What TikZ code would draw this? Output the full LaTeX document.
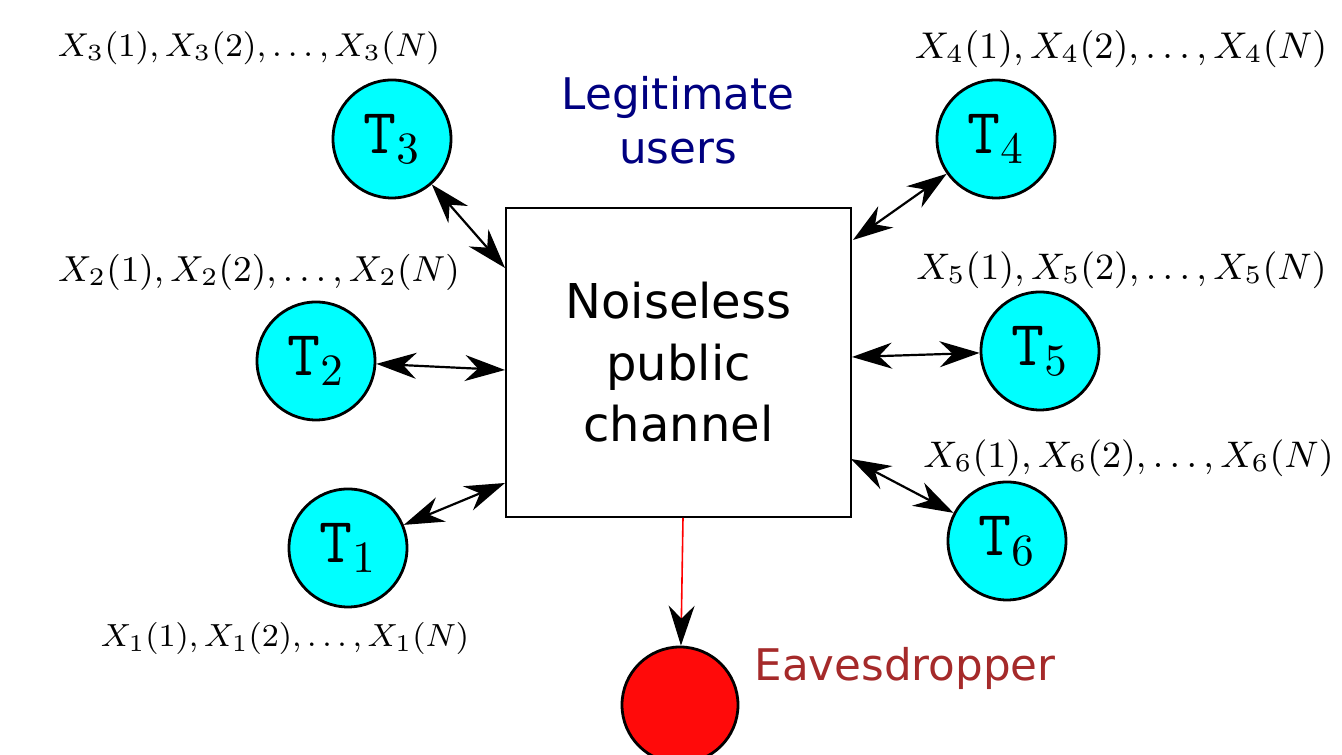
\RequirePackage{fix-cm}
\documentclass[tikz,border=0pt]{standalone}
\usepackage{fontspec}
\setsansfont{DejaVu Sans}
\usetikzlibrary{arrows.meta}
\definecolor{termcyan}{RGB}{0,255,255}
\definecolor{evered}{RGB}{255,10,10}
\definecolor{legblue}{RGB}{0,0,128}
\definecolor{evebrown}{RGB}{165,42,42}
\begin{document}
\begin{tikzpicture}[x=0.25pt,y=-0.25pt,
  term/.style={circle,draw,line width=0.7pt,fill=termcyan,minimum size=29.5pt,inner sep=0pt,font=\fontsize{16}{18}\selectfont},
  evenode/.style={circle,draw,line width=0.7pt,fill=evered,minimum size=29pt,inner sep=0pt},
  chan/.style={draw,line width=0.6pt,minimum width=86.25pt,minimum height=77.25pt,inner sep=0pt,align=center,font=\sffamily\fontsize{12}{15.4}\selectfont},
  biarrow/.style={line width=0.55pt,{Stealth[length=10pt,width=6.5pt]}-{Stealth[length=10pt,width=6.5pt]}},
  lab/.style={inner sep=0pt},
  tagtext/.style={font=\sffamily\fontsize{10.9}{13.5}\selectfont,align=center,inner sep=0pt}
]
\useasboundingbox (0,0) rectangle (1342,755);

\node[chan] (box) at (678.5,362.5) {Noiseless\\public\\channel};

\node[term] (t3) at (392,139) {$\mathtt{T}_3$};
\node[term] (t2) at (316,361) {$\mathtt{T}_2$};
\node[term] (t1) at (348,548) {$\mathtt{T}_1$};
\node[term] (t4) at (996,139) {$\mathtt{T}_4$};
\node[term] (t5) at (1040,351) {$\mathtt{T}_5$};
\node[term] (t6) at (1007,541) {$\mathtt{T}_6$};
\node[evenode] (eve) at (680,705) {};

\coordinate (b3) at (505,268);
\coordinate (b2) at (505,370);
\coordinate (b1) at (505,483);
\coordinate (b4) at (853,240);
\coordinate (b5) at (852,357);
\coordinate (b6) at (851,459);
\coordinate (be) at (683,518);

\draw[biarrow] (t3) -- (b3);
\draw[biarrow] (t2) -- (b2);
\draw[biarrow] (t1) -- (b1);
\draw[biarrow] (t4) -- (b4);
\draw[biarrow] (t5) -- (b5);
\draw[biarrow] (t6) -- (b6);
\draw[red,line width=0.4pt,-{Stealth[black,length=10pt,width=6.5pt]}] (be) -- (eve);

\node[lab,font=\fontsize{8.27}{10}\selectfont] (l3) at (249,48) {$X_3(1),X_3(2),\ldots,X_3(N)$};
\node[lab,font=\fontsize{9.05}{11}\selectfont] (l2) at (259,272) {$X_2(1),X_2(2),\ldots,X_2(N)$};
\node[lab,font=\fontsize{8}{10}\selectfont] (l1) at (285,639) {$X_1(1),X_1(2),\ldots,X_1(N)$};
\node[lab,font=\fontsize{9.3}{11}\selectfont] (l4) at (1121,49) {$X_4(1),X_4(2),\ldots,X_4(N)$};
\node[lab,font=\fontsize{9.25}{11}\selectfont] (l5) at (1121.5,270) {$X_5(1),X_5(2),\ldots,X_5(N)$};
\node[lab,font=\fontsize{9.25}{11}\selectfont] (l6) at (1128.5,458) {$X_6(1),X_6(2),\ldots,X_6(N)$};

\node[tagtext,text=legblue] (leg) at (678,120) {Legitimate\\users};
\node[tagtext,text=evebrown] (evl) at (905,668) {Eavesdropper};
\end{tikzpicture}
\end{document}
